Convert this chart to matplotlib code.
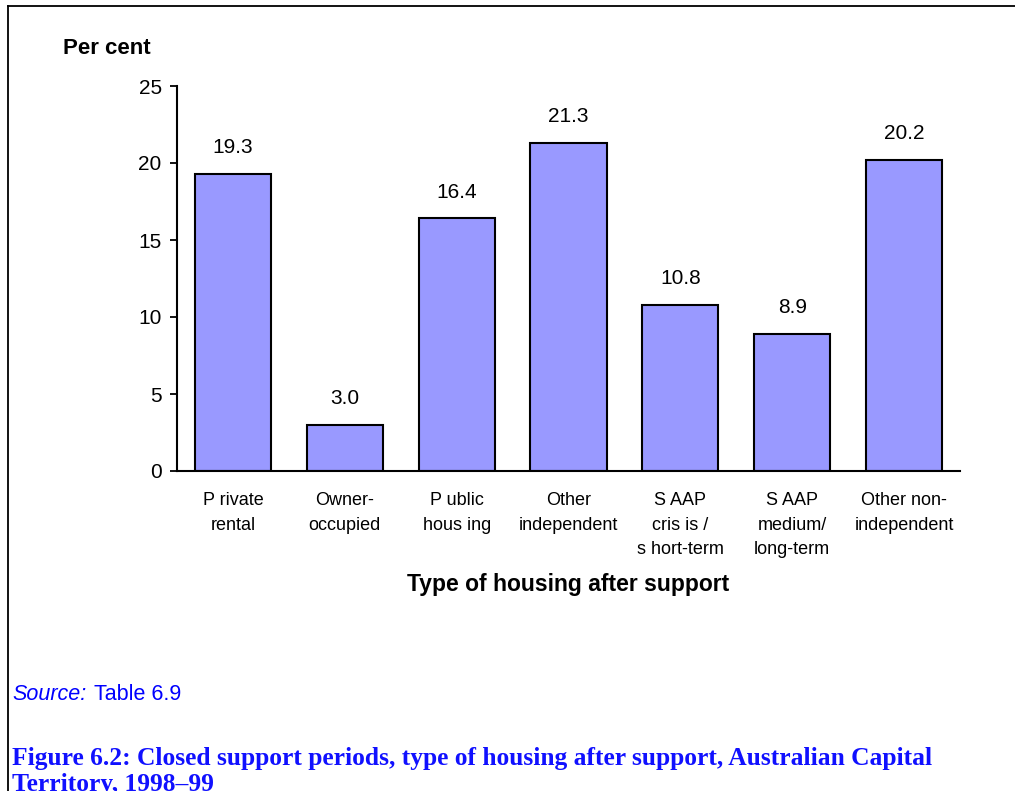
import matplotlib
matplotlib.use("Agg")
import matplotlib.pyplot as plt
from matplotlib.lines import Line2D

categories = ["P rivate\nrental", "Owner-\noccupied", "P ublic\nhous ing", "Other\nindependent",
              "S AAP\ncris is /\ns hort-term", "S AAP\nmedium/\nlong-term", "Other non-\nindependent"]
values = [19.3, 3.0, 16.4, 21.3, 10.8, 8.9, 20.2]
yticks = [0, 5, 10, 15, 20, 25]

plt.rcParams['font.family'] = ['Liberation Sans', 'DejaVu Sans']

fig = plt.figure(figsize=(10.15, 7.91), dpi=100)
ax = fig.add_axes([177/1015, 1-471/791, (960-177)/1015, (471-86)/791])

x = list(range(len(values)))
bars = ax.bar(x, values, width=0.68, color='#9999FF', edgecolor='black', linewidth=1.5, zorder=2)
for xi, v in zip(x, values):
    ax.annotate(f"{v:.1f}", (xi, v), xytext=(0, 12), textcoords='offset points',
                ha='center', va='bottom', fontsize=15)

ax.set_xlim(-0.5, len(values) - 0.5)
ax.set_ylim(0, 25)
ax.set_yticks(yticks)
ax.set_yticklabels([str(t) for t in yticks], fontsize=15)
ax.set_xticks(x)
ax.set_xticklabels(categories, fontsize=13, linespacing=1.6, va='top')
ax.tick_params(axis='x', length=0, pad=15)
ax.tick_params(axis='y', length=5, width=1.3, direction='out', pad=6)
for s in ['top', 'right']:
    ax.spines[s].set_visible(False)
ax.spines['left'].set_linewidth(1.5)
ax.spines['bottom'].set_linewidth(1.5)

fig.text(63/1015, 1-49/791, "Per cent", fontsize=16, fontweight='bold', ha='left', va='center')
fig.text(568/1015, 1-585/791, "Type of housing after support", fontsize=16.5, fontweight='bold',
         ha='center', va='center')

fig.text(12/1015, 1-694/791, "Source:", fontsize=15.5, style='italic', color='#0000FF', ha='left', va='center')
fig.text(94/1015, 1-694/791, "Table 6.9", fontsize=15.5, color='#0000FF', ha='left', va='center')

fig.text(12/1015, 1-747/791,
         "Figure 6.2: Closed support periods, type of housing after support, Australian Capital\nTerritory, 1998\u201399",
         fontsize=18.4, fontweight='bold', family=['Liberation Serif', 'DejaVu Serif'], color='#1010FF',
         ha='left', va='top', linespacing=1.17)

fig.add_artist(Line2D([8/1015, 8/1015], [0, 1-6/791], transform=fig.transFigure, color='black', linewidth=1.3))
fig.add_artist(Line2D([8/1015, 1], [1-6/791, 1-6/791], transform=fig.transFigure, color='black', linewidth=1.3))

fig.savefig("out.png", dpi=100)
